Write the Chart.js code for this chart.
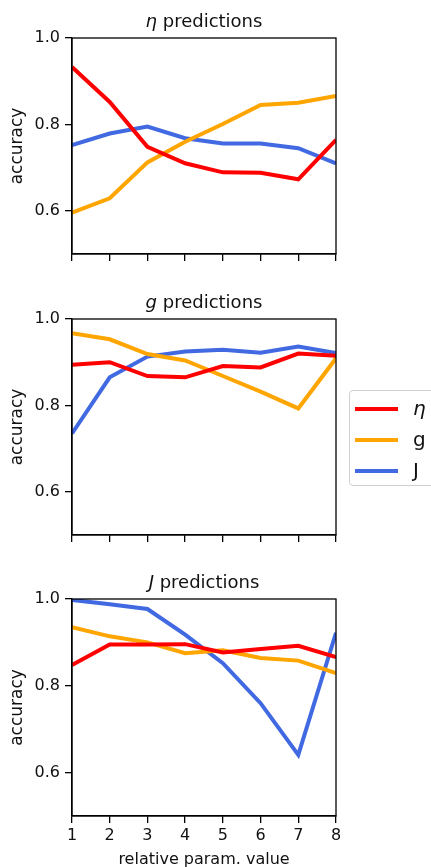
<!DOCTYPE html>
<html>
<head>
<meta charset="utf-8">
<script src="https://cdn.jsdelivr.net/npm/chart.js@4/dist/chart.umd.min.js"></script>
<style>
  html, body { margin: 0; padding: 0; background: #fff; overflow: hidden; }
  body { width: 431px; height: 867px; position: relative; font-family: 'DejaVu Sans', sans-serif; }
  canvas { position: absolute; left: 0; }
  #legend {
    position: absolute; left: 349px; top: 390px; width: 100px; height: 96px;
    border: 1px solid #d0d0d0; border-radius: 4px; background: rgba(255,255,255,0.8);
    box-sizing: border-box;
  }
  .item { position: absolute; left: 0; height: 30px; width: 100px; }
  .item .swatch { position: absolute; left: 5px; width: 43px; height: 4px; top: 13px; }
  .item .lbl { position: absolute; left: 63px; top: 1px; font-size: 20px; color: #111; line-height: 26px; }
</style>
</head>
<body>
<canvas id="c1"></canvas>
<canvas id="c2"></canvas>
<canvas id="c3"></canvas>
<div id="legend"></div>
<script>
// ── data ──
const xValues = [1, 2, 3, 4, 5, 6, 7, 8];
const yTicks = [0.6, 0.8, 1.0];
const seriesNames = ['η', 'g', 'J'];
const seriesItalic = [true, false, false];
const seriesColors = ['#ff0000', '#ffa500', '#4169e1'];
const panelSymbols = ['η', 'g', 'J'];

// η predictions
const etaEta = [0.933, 0.852, 0.748, 0.710, 0.689, 0.688, 0.673, 0.764];
const etaG   = [0.596, 0.629, 0.712, 0.760, 0.801, 0.845, 0.850, 0.866];
const etaJ   = [0.752, 0.779, 0.795, 0.768, 0.756, 0.756, 0.745, 0.710];
// g predictions
const gEta = [0.894, 0.900, 0.868, 0.865, 0.891, 0.888, 0.920, 0.915];
const gG   = [0.967, 0.953, 0.919, 0.904, 0.868, 0.832, 0.793, 0.909];
const gJ   = [0.735, 0.865, 0.913, 0.925, 0.929, 0.922, 0.936, 0.921];
// J predictions
const jEta = [0.848, 0.895, 0.895, 0.896, 0.877, 0.885, 0.892, 0.866];
const jG   = [0.935, 0.914, 0.900, 0.875, 0.882, 0.864, 0.858, 0.829];
const jJ   = [0.998, 0.988, 0.977, 0.918, 0.852, 0.760, 0.641, 0.922];

const FONT = "'DejaVu Sans', sans-serif";
const INK = '#111';

// draws the full box + the title with an italic symbol
const framePlugin = {
  id: 'frame',
  afterDraw(chart, args, opts) {
    const { ctx, chartArea: a } = chart;
    ctx.save();
    ctx.strokeStyle = '#000';
    ctx.lineWidth = 1.3;
    ctx.strokeRect(a.left, a.top, a.right - a.left, a.bottom - a.top);
    const sym = opts.sym, rest = ' predictions';
    ctx.fillStyle = INK;
    ctx.textBaseline = 'middle';
    ctx.font = 'italic 18px ' + FONT;
    const w1 = ctx.measureText(sym).width;
    ctx.font = '18px ' + FONT;
    const w2 = ctx.measureText(rest).width;
    const x0 = (a.left + a.right) / 2 - (w1 + w2) / 2;
    const y = a.top - 16;
    ctx.font = 'italic 18px ' + FONT;
    ctx.fillText(sym, x0, y);
    ctx.font = '18px ' + FONT;
    ctx.fillText(rest, x0 + w1, y);
    ctx.restore();
  },
};

function makePanel(id, top, height, sym, rows, last) {
  const canvas = document.getElementById(id);
  canvas.style.top = top + 'px';
  canvas.width = 431;
  canvas.height = height;
  canvas.style.width = '431px';
  canvas.style.height = height + 'px';

  const datasets = rows.map((vals, i) => ({
    label: seriesNames[i],
    data: xValues.map((x, k) => ({ x, y: vals[k] })),
    borderColor: seriesColors[i],
    backgroundColor: seriesColors[i],
    borderWidth: 4,
    pointRadius: 0,
    tension: 0,
    clip: 0,
  }));

  new Chart(canvas, {
    type: 'line',
    data: { datasets },
    options: {
      responsive: false,
      animation: false,
      layout: { padding: { top: 38, right: 95, left: 0, bottom: last ? 0 : 6 } },
      plugins: { legend: { display: false }, tooltip: { enabled: false }, frame: { sym } },
      scales: {
        x: {
          type: 'linear',
          min: 1,
          max: 8,
          afterBuildTicks: s => { s.ticks = xValues.map(v => ({ value: v })); },
          afterFit: s => { s.height = last ? 55 : 30; },
          grid: { drawOnChartArea: false, drawTicks: true, tickLength: 7, color: '#000', lineWidth: 1.3 },
          border: { display: true, color: '#000', width: 1.3 },
          ticks: { display: last, color: INK, font: { family: FONT, size: 16 }, padding: 3 },
          title: {
            display: last,
            text: 'relative param. value',
            color: INK,
            font: { family: FONT, size: 16 },
            padding: { top: 0, bottom: 2 },
          },
        },
        y: {
          min: 0.5,
          max: 1.0,
          afterBuildTicks: s => { s.ticks = yTicks.map(v => ({ value: v })); },
          afterFit: s => { s.width = 72; },
          grid: { drawOnChartArea: false, drawTicks: true, tickLength: 7, color: '#000', lineWidth: 1.3 },
          border: { display: true, color: '#000', width: 1.3 },
          ticks: { color: INK, font: { family: FONT, size: 16 }, padding: 5, callback: v => v.toFixed(1) },
          title: {
            display: true,
            text: 'accuracy',
            color: INK,
            font: { family: FONT, size: 17 },
            padding: { top: 7, bottom: 0 },
          },
        },
      },
    },
    plugins: [framePlugin],
  });
}

makePanel('c1', 0, 290, panelSymbols[0], [etaEta, etaG, etaJ], false);
makePanel('c2', 281, 290, panelSymbols[1], [gEta, gG, gJ], false);
makePanel('c3', 561, 310, panelSymbols[2], [jEta, jG, jJ], true);

// legend built from the series arrays
const legend = document.getElementById('legend');
seriesNames.forEach((name, i) => {
  const item = document.createElement('div');
  item.className = 'item';
  item.style.top = (3 + i * 31) + 'px';
  const sw = document.createElement('div');
  sw.className = 'swatch';
  sw.style.background = seriesColors[i];
  const lbl = document.createElement('div');
  lbl.className = 'lbl';
  lbl.textContent = name;
  if (seriesItalic[i]) lbl.style.fontStyle = 'italic';
  item.appendChild(sw);
  item.appendChild(lbl);
  legend.appendChild(item);
});
</script>
</body>
</html>
